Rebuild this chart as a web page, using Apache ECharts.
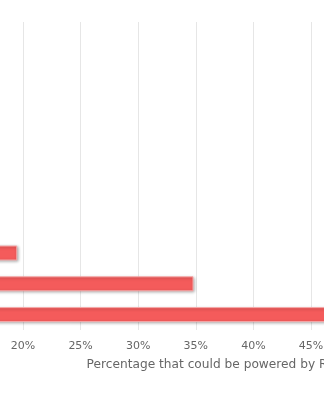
<!DOCTYPE html>
<html>
<head>
<meta charset="utf-8">
<script src="https://cdn.jsdelivr.net/npm/echarts@6/dist/echarts.min.js"></script>
<style>
html,body{margin:0;padding:0;background:#fff;overflow:hidden;}
#wrap{position:relative;width:324px;height:396px;overflow:hidden;}
#chart{position:absolute;left:-240px;top:0;width:700px;height:396px;}
</style>
</head>
<body>
<div id="wrap"><div id="chart"></div></div>
<script>
// Categories (labels lie outside the visible crop)
var categories = ['Category 1','Category 2','Category 3','Category 4','Category 5','Category 6','Category 7','Category 8','Category 9','Category 10'];
// Percentages (top rows are off the visible area, estimated below 18%)
var values = [2.1, 4.8, 6.3, 8.9, 11.2, 13.5, 16.4, 19.5, 34.8, 48];
var axisTitle = 'Percentage that could be powered by Renewables';
var xMin = 0, xMax = 50, xStep = 5;

var chart = echarts.init(document.getElementById('chart'));
chart.setOption({
  animation: false,
  backgroundColor: '#ffffff',
  grid: { left: 32.6, right: 91.4, top: 22, bottom: 66, containLabel: false, outerBoundsMode: 'none' },
  xAxis: {
    type: 'value',
    min: xMin, max: xMax, interval: xStep,
    axisLine: { show: false },
    axisTick: { show: false },
    splitLine: { show: true, lineStyle: { color: '#e6e6e6', width: 1 } },
    axisLabel: {
      formatter: '{value}%',
      color: '#666666',
      fontFamily: 'DejaVu Sans',
      fontSize: 11,
      margin: 11
    },
    name: axisTitle,
    nameLocation: 'middle',
    nameGap: 29,
    nameTextStyle: {
      color: '#666666',
      fontFamily: 'DejaVu Sans',
      fontSize: 12.2,
      align: 'left',
      padding: [0, 0, 0, 6]
    }
  },
  yAxis: {
    type: 'category',
    data: categories,
    inverse: true,
    axisLine: { show: false },
    axisTick: { show: false },
    axisLabel: { show: false },
    splitLine: { show: false }
  },
  series: [{
    type: 'bar',
    data: values,
    barWidth: 15,
    itemStyle: {
      color: '#f45b5b',
      borderColor: '#f7a8a8',
      borderWidth: 1,
      shadowColor: 'rgba(0,0,0,0.3)',
      shadowBlur: 3,
      shadowOffsetX: 1,
      shadowOffsetY: 1
    }
  }]
});
</script>
</body>
</html>
